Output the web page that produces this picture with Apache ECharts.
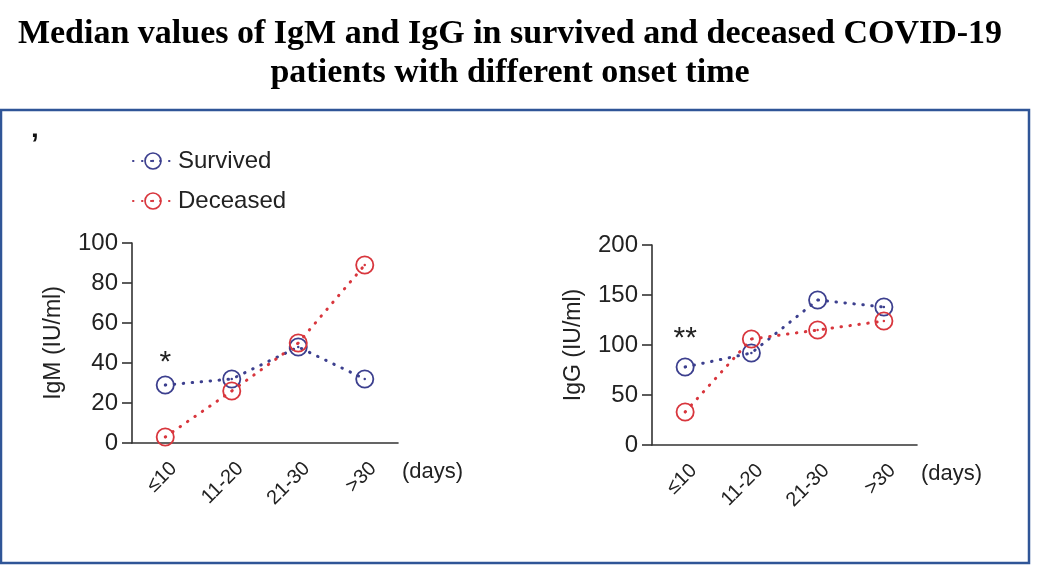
<!DOCTYPE html>
<html>
<head>
<meta charset="utf-8">
<script src="https://cdn.jsdelivr.net/npm/echarts@6/dist/echarts.min.js"></script>
<style>html,body{margin:0;padding:0;background:#fff}#c{width:1048px;height:565px}</style>
</head>
<body>
<div id="c"></div>
<script>
const categories = ['≤10', '11-20', '21-30', '>30'];
const igmSurvived = [29, 32, 48, 32];
const igmDeceased = [3, 26, 50, 89];
const iggSurvived = [78, 92, 145, 138];
const iggDeceased = [33, 106, 115, 124];
const igmTicks = [0, 20, 40, 60, 80, 100];
const iggTicks = [0, 50, 100, 150, 200];
const igmSig = { label: '*', category: 0, value: 44 };
const iggSig = { label: '**', category: 0, value: 114 };

const BLUE = '#3c3f8e';
const RED = '#d8363d';
const AXIS = '#333';
const FONT = 'Liberation Sans, Arial, sans-serif';
const ringSymbol = 'path://M0,-10 A10,10 0 1,1 0,10 A10,10 0 1,1 0,-10 Z M0,-8.1 A8.1,8.1 0 1,0 0,8.1 A8.1,8.1 0 1,0 0,-8.1 Z M0,-1.3 A1.3,1.3 0 1,1 0,1.3 A1.3,1.3 0 1,1 0,-1.3 Z';

function xAxisCfg(idx) {
  return {
    type: 'category', gridIndex: idx, data: categories, boundaryGap: true,
    axisLine: { lineStyle: { color: AXIS, width: 1.6 } },
    axisTick: { alignWithLabel: true, length: 8, lineStyle: { color: AXIS, width: 1.6 } },
    axisLabel: { rotate: 45, fontSize: 20, color: '#222', fontFamily: FONT, margin: 14,
      verticalAlign: 'top', padding: [2, 0, 0, 0] },
    name: '(days)', nameLocation: 'end', nameGap: 4,
    nameTextStyle: { fontSize: 22, color: '#222', fontFamily: FONT, verticalAlign: 'top', padding: [18, 0, 0, 0] }
  };
}
function yAxisCfg(idx, ticks, name) {
  return {
    type: 'value', gridIndex: idx, min: ticks[0], max: ticks[ticks.length - 1],
    interval: ticks[1] - ticks[0],
    axisLine: { show: true, lineStyle: { color: AXIS, width: 1.6 } },
    axisTick: { show: true, length: 10, lineStyle: { color: AXIS, width: 1.6 } },
    axisLabel: { fontSize: 24, color: '#222', fontFamily: FONT, margin: 14 },
    splitLine: { show: false },
    name: name, nameLocation: 'middle', nameGap: 67, nameRotate: 90,
    nameTextStyle: { fontSize: 23, color: '#222', fontFamily: FONT }
  };
}
function seriesCfg(name, data, color, idx, sig) {
  const s = {
    name: name, type: 'line', data: data, xAxisIndex: idx, yAxisIndex: idx,
    symbol: ringSymbol, symbolSize: 19, showSymbol: true,
    itemStyle: { color: color },
    lineStyle: { color: color, width: 3, type: [0.5, 8.5], cap: 'round' },
    z: 3, animation: false
  };
  if (sig) {
    s.markPoint = {
      symbol: 'circle', symbolSize: 0, animation: false,
      label: { show: true, formatter: sig.label, fontSize: 30, color: '#222', fontFamily: FONT, offset: [0, 8] },
      data: [{ coord: [sig.category, sig.value] }]
    };
  }
  return s;
}

const chart = echarts.init(document.getElementById('c'), null, { renderer: 'canvas' });
chart.setOption({
  animation: false,
  backgroundColor: '#fff',
  title: {
    text: 'Median values of IgM and IgG in survived and deceased COVID-19\npatients with different onset time',
    left: 510, top: 15, textAlign: 'center', padding: 0,
    textStyle: { fontFamily: 'Liberation Serif, Times New Roman, serif', fontWeight: 'bold', fontSize: 34, lineHeight: 39, color: '#000' }
  },
  graphic: [
    { type: 'rect', shape: { x: 1, y: 110, width: 1028, height: 453 }, style: { fill: 'none', stroke: '#2f5597', lineWidth: 2.5 }, z: 0 },
    { type: 'text', left: 31, top: 131, style: { text: 'ʼ', fill: '#111', font: 'bold 28px Liberation Sans' } }
  ],
  legend: {
    data: ['Survived', 'Deceased'], orient: 'vertical', left: 127, top: 144,
    itemWidth: 40, itemHeight: 22, itemGap: 16,
    textStyle: { fontSize: 24, color: '#222', fontFamily: FONT }
  },
  grid: [
    { left: 132, top: 243, width: 266, height: 200 },
    { left: 652, top: 245, width: 265, height: 200 }
  ],
  xAxis: [xAxisCfg(0), xAxisCfg(1)],
  yAxis: [yAxisCfg(0, igmTicks, 'IgM (IU/ml)'), yAxisCfg(1, iggTicks, 'IgG (IU/ml)')],
  series: [
    seriesCfg('Survived', igmSurvived, BLUE, 0, igmSig),
    seriesCfg('Deceased', igmDeceased, RED, 0, null),
    seriesCfg('Survived', iggSurvived, BLUE, 1, iggSig),
    seriesCfg('Deceased', iggDeceased, RED, 1, null)
  ]
});
</script>
</body>
</html>
